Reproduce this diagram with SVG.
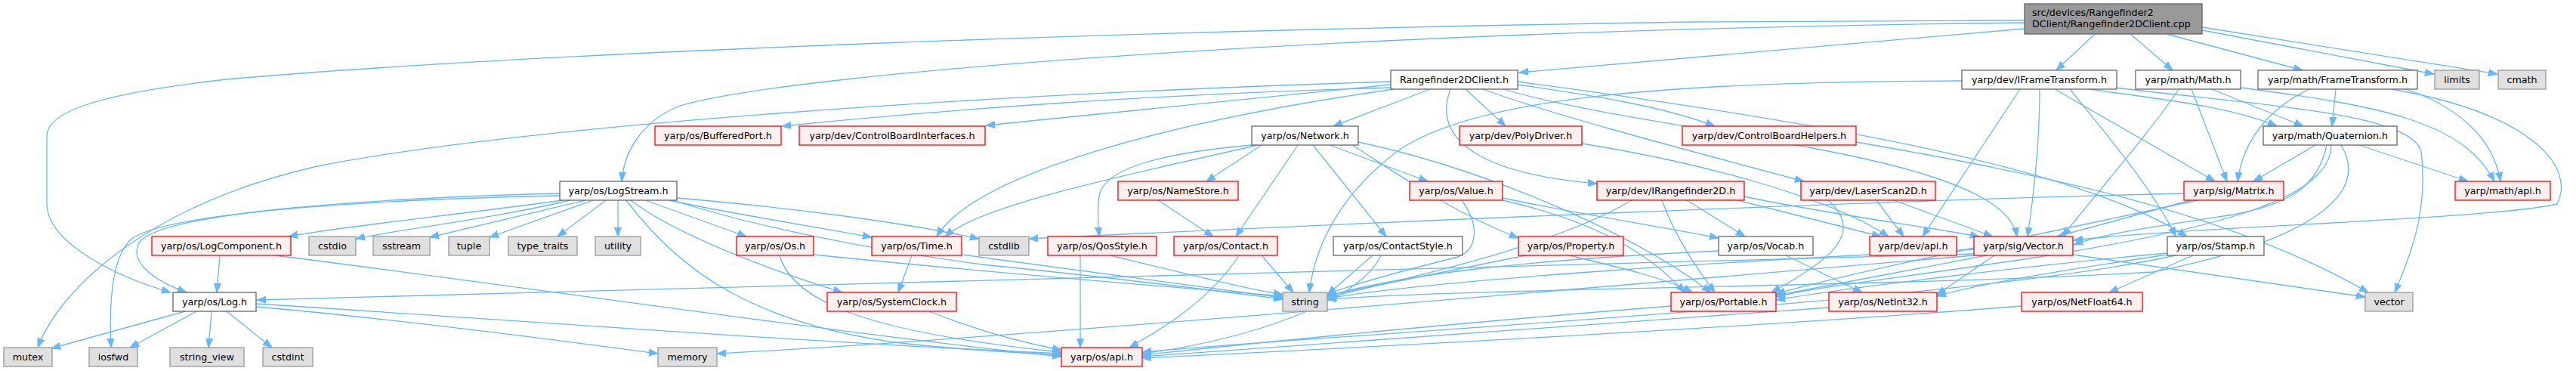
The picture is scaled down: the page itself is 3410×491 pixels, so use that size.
<svg xmlns="http://www.w3.org/2000/svg" width="3410" height="491" viewBox="0 0 3410 491">
<style>
.e path{fill:none;stroke:#63b8ff;stroke-width:1.3;marker-end:url(#a)}
rect{stroke-width:1.3}
.w rect{fill:#ffffff;stroke:#666666}
.g rect{fill:#e0e0e0;stroke:#999999}
.r rect{fill:#fff0f0;stroke:#ff0000}
.k rect{fill:#999999;stroke:#666666}
text{font-family:"DejaVu Sans","Liberation Sans",sans-serif;font-size:12.7px;fill:#000;text-anchor:middle}
.k text{text-anchor:start}
</style>
<defs>
<marker id="a" markerUnits="userSpaceOnUse" markerWidth="13" markerHeight="11" refX="12" refY="5" orient="auto"><path d="M0,0.5 L12,5 L0,9.5 z" fill="#63b8ff" stroke="#63b8ff" stroke-width="1"/></marker>
</defs>
<rect width="3410" height="491" fill="#ffffff" stroke="none"/>
<g class="e" id="edges">
<path d="M2680,38 L2011,96"/>
<path d="M2773,45 L2722,93"/>
<path d="M2820,45 L2876,93"/>
<path d="M2868,45 L3048,93"/>
<path d="M2915,40 L3222,98"/>
<path d="M2915,36 L3306,98"/>
<path d="M2680,30 C1800,40 1050,95 900,140 C850,160 826,200 823,240"/>
<path d="M2680,27 L2240,29 C1500,40 700,70 300,105 C120,125 62,150 62,180 L62,270 C62,320 150,365 226,387"/>
<path d="M1841,108 C1300,125 700,165 420,220 C200,270 80,380 50,460"/>
<path d="M1841,116 C1500,125 1200,150 1035,167"/>
<path d="M1841,112 L1305,166"/>
<path d="M1893,118 L1765,167"/>
<path d="M1940,118 L1993,167"/>
<path d="M1920,118 C1895,185 1960,230 2114,243"/>
<path d="M2009,112 C2100,125 2200,140 2270,167"/>
<path d="M1963,118 C2050,150 2200,190 2388,240"/>
<path d="M1845,118 C1550,160 1290,230 1240,313"/>
<path d="M1990,118 C2200,180 2650,200 2670,313"/>
<path d="M2009,108 C2400,160 2750,220 2895,313"/>
<path d="M2597,107 C2200,108 1950,130 1850,200 C1770,260 1740,330 1733,387"/>
<path d="M2674,118 L2545,313"/>
<path d="M2700,118 C2700,200 2690,270 2684,313"/>
<path d="M2765,118 C2850,130 2950,140 3014,167"/>
<path d="M2720,118 L2932,240"/>
<path d="M2800,116 C3000,140 3190,150 3205,200 C3215,280 3190,340 3170,387"/>
<path d="M2740,118 C2790,180 2850,250 2880,313"/>
<path d="M2928,118 L3049,167"/>
<path d="M2901,118 L2948,240"/>
<path d="M2966,116 C3150,140 3260,160 3302,240"/>
<path d="M2884,118 C2850,170 2780,250 2730,313"/>
<path d="M3092,118 L3087,167"/>
<path d="M3057,118 C3010,140 2970,180 2962,240"/>
<path d="M3185,118 C3250,140 3300,180 3310,240"/>
<path d="M3166,118 C3350,150 3410,220 3385,270 C3300,290 2900,300 2745,318"/>
<path d="M3065,192 L2983,240"/>
<path d="M3123,192 L3267,240"/>
<path d="M3080,192 C3070,240 3040,270 2950,285 C2850,300 2780,310 2745,324"/>
<path d="M3086,192 C3085,260 2950,300 2700,340 C2500,370 2400,380 2351,393"/>
<path d="M3099,192 C3140,260 3050,320 2850,360 C2500,380 2000,380 1757,396"/>
<path d="M745,265 C600,285 450,300 382,313"/>
<path d="M741,256 C500,262 220,280 185,320 C170,345 200,370 247,387"/>
<path d="M741,259 C450,265 200,285 170,320 C145,350 145,420 147,460"/>
<path d="M755,265 C650,290 520,305 471,316"/>
<path d="M775,265 L569,314"/>
<path d="M785,265 L648,314"/>
<path d="M802,265 L738,313"/>
<path d="M818,265 L818,313"/>
<path d="M854,265 L988,313"/>
<path d="M835,265 C880,300 980,345 1115,387"/>
<path d="M829,265 C900,360 1000,430 1200,455 C1300,465 1370,468 1405,470"/>
<path d="M885,265 C980,285 1080,300 1154,314"/>
<path d="M896,262 C1050,275 1200,295 1296,316"/>
<path d="M890,265 C1000,300 1150,330 1300,350 C1500,370 1650,390 1698,396"/>
<path d="M291,338 L287,387"/>
<path d="M364,338 C700,380 1100,440 1405,472"/>
<path d="M245,412 L68,461"/>
<path d="M260,412 L172,460"/>
<path d="M280,412 L276,460"/>
<path d="M300,412 L360,460"/>
<path d="M339,406 C500,420 700,445 871,468"/>
<path d="M339,402 C700,425 1100,455 1405,468"/>
<path d="M1032,338 C1050,400 1150,440 1405,466"/>
<path d="M1077,337 C1300,360 1550,380 1698,392"/>
<path d="M1207,338 L1189,387"/>
<path d="M1273,337 C1450,360 1600,380 1698,394"/>
<path d="M1230,412 C1300,440 1360,455 1405,463"/>
<path d="M1430,338 L1430,460"/>
<path d="M1470,338 C1560,360 1640,380 1698,390"/>
<path d="M1533,265 L1606,313"/>
<path d="M1670,192 L1597,240"/>
<path d="M1665,192 C1500,230 1300,270 1251,313"/>
<path d="M1680,190 C1550,200 1460,220 1455,260 C1452,280 1454,300 1455,313"/>
<path d="M1718,192 L1636,313"/>
<path d="M1738,192 L1835,313"/>
<path d="M1760,192 L1890,240"/>
<path d="M1790,192 C1850,230 1920,280 2010,315"/>
<path d="M1798,188 C1950,220 2150,300 2265,387"/>
<path d="M1935,265 C1960,300 1955,330 1930,340 C1850,360 1780,380 1757,390"/>
<path d="M1989,262 C2100,285 2200,300 2275,315"/>
<path d="M1989,265 C2100,290 2180,330 2230,387"/>
<path d="M2020,338 L1757,391"/>
<path d="M2077,338 C2150,355 2210,370 2240,387"/>
<path d="M2364,338 L2465,387"/>
<path d="M2275,332 C2000,345 1850,365 1757,392"/>
<path d="M2300,265 L2490,313"/>
<path d="M2309,260 C2400,280 2550,300 2620,313"/>
<path d="M2233,265 L2310,313"/>
<path d="M2160,265 C2050,330 1850,370 1757,394"/>
<path d="M2200,265 C2220,320 2250,360 2270,387"/>
<path d="M2484,265 L2520,313"/>
<path d="M2507,265 L2638,313"/>
<path d="M2420,265 C2470,310 2420,345 2345,387"/>
<path d="M2094,190 C2250,215 2420,260 2500,313"/>
<path d="M2457,188 C2700,230 2950,280 3135,387"/>
<path d="M2630,338 L2351,391"/>
<path d="M2613,330 C2300,345 1900,370 1757,395"/>
<path d="M2744,337 L3131,393"/>
<path d="M2640,338 L2564,390"/>
<path d="M2613,336 C2000,355 1200,378 340,397"/>
<path d="M2613,338 C2000,390 1300,450 949,468"/>
<path d="M2900,265 L2723,313"/>
<path d="M2891,256 C2500,265 1800,295 1362,316"/>
<path d="M2909,265 C2750,300 2450,360 2351,389"/>
<path d="M2869,335 C2700,350 2450,380 2351,397"/>
<path d="M2869,337 C2750,355 2620,375 2564,392"/>
<path d="M2903,338 L2792,387"/>
<path d="M2880,338 C2600,400 1800,440 1512,466"/>
<path d="M2212,405 C1900,430 1650,455 1512,470"/>
<path d="M2421,407 C2100,430 1750,455 1512,472"/>
<path d="M2676,405 C2300,435 1800,460 1512,474"/>
<path d="M1817,338 L1757,390"/>
<path d="M1828,338 C1800,400 1650,450 1512,468"/>
<path d="M1670,338 L1712,387"/>
<path d="M1640,338 C1600,400 1530,440 1495,460"/>
</g>
<g id="n_root" class="k"><rect x="2680" y="5" width="235" height="40"/><text x="2690" y="21">src/devices/Rangefinder2</text><text x="2690" y="36">DClient/Rangefinder2DClient.cpp</text></g>
<g id="n_r2dc" class="w"><rect x="1841" y="93" width="168" height="25"/><text x="1925" y="110">Rangefinder2DClient.h</text></g>
<g id="n_ift" class="w"><rect x="2597" y="93" width="205" height="25"/><text x="2699.5" y="110">yarp/dev/IFrameTransform.h</text></g>
<g id="n_math" class="w"><rect x="2827" y="93" width="139" height="25"/><text x="2896.5" y="110">yarp/math/Math.h</text></g>
<g id="n_ft" class="w"><rect x="2989" y="93" width="211" height="25"/><text x="3094.5" y="110">yarp/math/FrameTransform.h</text></g>
<g id="n_limits" class="g"><rect x="3223" y="93" width="59" height="25"/><text x="3252.5" y="110">limits</text></g>
<g id="n_cmath" class="g"><rect x="3307" y="93" width="63" height="25"/><text x="3338.5" y="110">cmath</text></g>
<g id="n_bport" class="r"><rect x="867" y="167" width="167" height="25"/><text x="950.5" y="184">yarp/os/BufferedPort.h</text></g>
<g id="n_cbi" class="r"><rect x="1058" y="167" width="246" height="25"/><text x="1181" y="184">yarp/dev/ControlBoardInterfaces.h</text></g>
<g id="n_net" class="w"><rect x="1657" y="167" width="141" height="25"/><text x="1727.5" y="184">yarp/os/Network.h</text></g>
<g id="n_poly" class="r"><rect x="1932" y="167" width="162" height="25"/><text x="2013" y="184">yarp/dev/PolyDriver.h</text></g>
<g id="n_cbh" class="r"><rect x="2227" y="167" width="230" height="25"/><text x="2342" y="184">yarp/dev/ControlBoardHelpers.h</text></g>
<g id="n_quat" class="w"><rect x="2996" y="167" width="177" height="25"/><text x="3084.5" y="184">yarp/math/Quaternion.h</text></g>
<g id="n_logstream" class="w"><rect x="741" y="240" width="155" height="25"/><text x="818.5" y="257">yarp/os/LogStream.h</text></g>
<g id="n_namestore" class="r"><rect x="1480" y="240" width="159" height="25"/><text x="1559.5" y="257">yarp/os/NameStore.h</text></g>
<g id="n_value" class="r"><rect x="1866" y="240" width="123" height="25"/><text x="1927.5" y="257">yarp/os/Value.h</text></g>
<g id="n_irf" class="r"><rect x="2114" y="240" width="195" height="25"/><text x="2211.5" y="257">yarp/dev/IRangefinder2D.h</text></g>
<g id="n_laser" class="r"><rect x="2384" y="240" width="178" height="25"/><text x="2473" y="257">yarp/dev/LaserScan2D.h</text></g>
<g id="n_matrix" class="r"><rect x="2891" y="240" width="132" height="25"/><text x="2957" y="257">yarp/sig/Matrix.h</text></g>
<g id="n_mapi" class="r"><rect x="3250" y="240" width="126" height="25"/><text x="3313" y="257">yarp/math/api.h</text></g>
<g id="n_logcomp" class="r"><rect x="201" y="313" width="184" height="25"/><text x="293" y="330">yarp/os/LogComponent.h</text></g>
<g id="n_cstdio" class="g"><rect x="409" y="313" width="62" height="25"/><text x="440" y="330">cstdio</text></g>
<g id="n_sstream" class="g"><rect x="494" y="313" width="75" height="25"/><text x="531.5" y="330">sstream</text></g>
<g id="n_tuple" class="g"><rect x="594" y="313" width="54" height="25"/><text x="621" y="330">tuple</text></g>
<g id="n_typetraits" class="g"><rect x="673" y="313" width="91" height="25"/><text x="718.5" y="330">type_traits</text></g>
<g id="n_utility" class="g"><rect x="788" y="313" width="60" height="25"/><text x="818" y="330">utility</text></g>
<g id="n_os" class="r"><rect x="975" y="313" width="102" height="25"/><text x="1026" y="330">yarp/os/Os.h</text></g>
<g id="n_time" class="r"><rect x="1154" y="313" width="119" height="25"/><text x="1213.5" y="330">yarp/os/Time.h</text></g>
<g id="n_cstdlib" class="g"><rect x="1296" y="313" width="66" height="25"/><text x="1329" y="330">cstdlib</text></g>
<g id="n_qos" class="r"><rect x="1387" y="313" width="144" height="25"/><text x="1459" y="330">yarp/os/QosStyle.h</text></g>
<g id="n_contact" class="r"><rect x="1554" y="313" width="137" height="25"/><text x="1622.5" y="330">yarp/os/Contact.h</text></g>
<g id="n_cstyle" class="w"><rect x="1765" y="313" width="171" height="25"/><text x="1850.5" y="330">yarp/os/ContactStyle.h</text></g>
<g id="n_property" class="r"><rect x="2010" y="313" width="139" height="25"/><text x="2079.5" y="330">yarp/os/Property.h</text></g>
<g id="n_vocab" class="w"><rect x="2275" y="313" width="125" height="25"/><text x="2337.5" y="330">yarp/os/Vocab.h</text></g>
<g id="n_devapi" class="r"><rect x="2475" y="313" width="115" height="25"/><text x="2532.5" y="330">yarp/dev/api.h</text></g>
<g id="n_vector" class="r"><rect x="2613" y="313" width="131" height="25"/><text x="2678.5" y="330">yarp/sig/Vector.h</text></g>
<g id="n_stamp" class="w"><rect x="2869" y="313" width="128" height="25"/><text x="2933" y="330">yarp/os/Stamp.h</text></g>
<g id="n_log" class="w"><rect x="229" y="387" width="110" height="25"/><text x="284" y="404">yarp/os/Log.h</text></g>
<g id="n_sysclock" class="r"><rect x="1095" y="387" width="171" height="25"/><text x="1180.5" y="404">yarp/os/SystemClock.h</text></g>
<g id="n_string" class="g"><rect x="1698" y="387" width="59" height="25"/><text x="1727.5" y="404">string</text></g>
<g id="n_portable" class="r"><rect x="2212" y="387" width="139" height="25"/><text x="2281.5" y="404">yarp/os/Portable.h</text></g>
<g id="n_netint" class="r"><rect x="2421" y="387" width="143" height="25"/><text x="2492.5" y="404">yarp/os/NetInt32.h</text></g>
<g id="n_netfloat" class="r"><rect x="2676" y="387" width="160" height="25"/><text x="2756" y="404">yarp/os/NetFloat64.h</text></g>
<g id="n_vec" class="g"><rect x="3131" y="387" width="63" height="25"/><text x="3162.5" y="404">vector</text></g>
<g id="n_mutex" class="g"><rect x="5" y="460" width="64" height="25"/><text x="37" y="477">mutex</text></g>
<g id="n_iosfwd" class="g"><rect x="118" y="460" width="64" height="25"/><text x="150" y="477">iosfwd</text></g>
<g id="n_strview" class="g"><rect x="225" y="460" width="98" height="25"/><text x="274" y="477">string_view</text></g>
<g id="n_cstdint" class="g"><rect x="348" y="460" width="66" height="25"/><text x="381" y="477">cstdint</text></g>
<g id="n_memory" class="g"><rect x="871" y="460" width="78" height="25"/><text x="910" y="477">memory</text></g>
<g id="n_osapi" class="r"><rect x="1405" y="460" width="107" height="25"/><text x="1458.5" y="477">yarp/os/api.h</text></g>
</svg>
